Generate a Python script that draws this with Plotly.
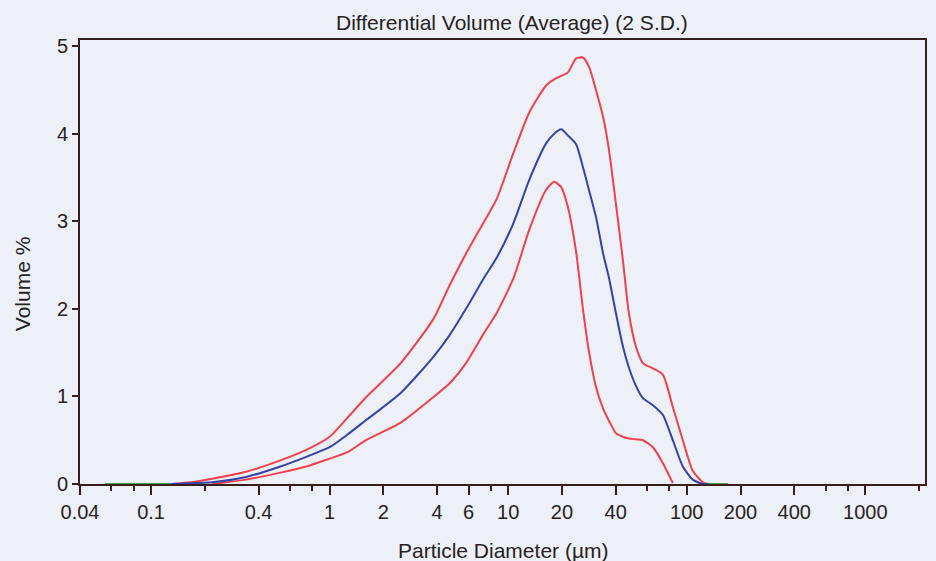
import plotly.graph_objects as go

# Particle diameter (µm) sample points
diameter = [0.13, 0.18, 0.22, 0.34, 0.53, 0.74, 1.0, 1.25, 1.6, 2.5, 3.8, 4.7, 5.8, 7.3,
            8.6, 10.7, 13.1, 16.3, 18.1, 19.8, 21.6, 24.0, 26.2, 28.4, 31.0, 34.0, 36.7,
            40.1, 43.9, 47.4, 51.9, 56.8, 64.6, 73.4, 83.5, 95.0, 108.0, 123.0, 131.0]

# Average differential volume (%)
mean_vol = [0.0, 0.01, 0.02, 0.08, 0.20, 0.31, 0.42, 0.56, 0.73, 1.04, 1.45, 1.70, 2.00, 2.35,
            2.58, 2.98, 3.47, 3.89, 4.00, 4.05, 3.98, 3.88, 3.62, 3.35, 3.05, 2.63, 2.35,
            1.95, 1.57, 1.33, 1.12, 0.98, 0.90, 0.79, 0.50, 0.20, 0.05, 0.0, 0.0]

# Mean + 2 S.D.
upper_vol = [0.0, 0.03, 0.06, 0.14, 0.27, 0.39, 0.54, 0.75, 0.99, 1.38, 1.88, 2.27, 2.63, 2.99,
             3.25, 3.78, 4.24, 4.55, 4.62, 4.66, 4.70, 4.86, 4.87, 4.76, 4.50, 4.19, 3.81,
             3.20, 2.55, 1.95, 1.57, 1.38, 1.32, 1.25, 0.88, 0.50, 0.15, 0.02, 0.0]

# Mean - 2 S.D.
lower_vol = [None, None, 0.0, 0.05, 0.13, 0.20, 0.29, 0.36, 0.50, 0.70, 0.99, 1.15, 1.38, 1.72,
             1.95, 2.35, 2.90, 3.36, 3.45, 3.39, 3.16, 2.65, 2.00, 1.50, 1.11, 0.86, 0.72,
             0.58, 0.54, 0.52, 0.51, 0.50, 0.42, 0.24, 0.01, None, None, None, None]

# Baseline (zero) segments drawn in green
base_diam = [0.055, 0.13, None, 123.0, 170.0]
base_vol = [0.0, 0.0, None, 0.0, 0.0]

major_ticks = [0.04, 0.1, 0.4, 1, 2, 4, 6, 10, 20, 40, 100, 200, 400, 1000]
major_labels = ["0.04", "0.1", "0.4", "1", "2", "4", "6", "10", "20", "40", "100", "200", "400", "1000"]
minor_ticks = [0.06, 0.08, 0.2, 0.6, 0.8, 8, 60, 80, 600, 800, 2000]

RED = "#f0404e"
BLUE = "#3543a8"
GREEN = "#4aa24a"
AXIS = "#3a1e1e"
BG = "#eef0f7"
FONT = "Liberation Sans, Arial, sans-serif"
TXT = "#262222"

fig = go.Figure()
fig.add_trace(go.Scatter(x=base_diam, y=base_vol, mode="lines",
                         line=dict(color=GREEN, width=2), connectgaps=False, showlegend=False))
fig.add_trace(go.Scatter(x=diameter, y=lower_vol, mode="lines",
                         line=dict(color=RED, width=2, shape="spline", smoothing=0.6),
                         connectgaps=False, showlegend=False))
fig.add_trace(go.Scatter(x=diameter, y=upper_vol, mode="lines",
                         line=dict(color=RED, width=2, shape="spline", smoothing=0.6),
                         showlegend=False))
fig.add_trace(go.Scatter(x=diameter, y=mean_vol, mode="lines",
                         line=dict(color=BLUE, width=2, shape="spline", smoothing=0.6),
                         showlegend=False))

fig.update_layout(
    width=936, height=561,
    margin=dict(l=80, r=9, t=40, b=77),
    paper_bgcolor=BG, plot_bgcolor=BG,
    font=dict(family=FONT, size=21, color=TXT),
    showlegend=False,
)

fig.update_xaxes(
    type="log", range=[-1.398, 3.334],
    tickmode="array", tickvals=major_ticks, ticktext=major_labels,
    ticks="outside", ticklen=9, tickwidth=2, tickcolor=AXIS,
    minor=dict(tickmode="array", tickvals=minor_ticks, ticks="outside",
               ticklen=5, tickwidth=2, tickcolor=AXIS, showgrid=False),
    showline=True, linecolor=AXIS, linewidth=2, mirror=True,
    showgrid=False, zeroline=False,
    tickfont=dict(size=20, family=FONT, color=TXT),
)
fig.update_yaxes(
    range=[0, 5.07], tickmode="array", tickvals=[0, 1, 2, 3, 4, 5],
    ticks="outside", ticklen=6, tickwidth=2, tickcolor=AXIS,
    showline=True, linecolor=AXIS, linewidth=2, mirror=True,
    showgrid=False, zeroline=False,
    tickfont=dict(size=20, family=FONT, color=TXT),
)

fig.add_annotation(text="Differential Volume (Average) (2 S.D.)", xref="paper", yref="paper",
                   x=0.511, y=1.0, yshift=18, showarrow=False, xanchor="center", yanchor="middle",
                   font=dict(size=21, family=FONT, color=TXT))
fig.add_annotation(text="Particle Diameter (µm)", xref="paper", yref="paper",
                   x=0.5, y=0.0, yshift=-66, showarrow=False, xanchor="center", yanchor="middle",
                   font=dict(size=21, family=FONT, color=TXT))
fig.add_annotation(text="Volume %", xref="paper", yref="paper", textangle=-90,
                   x=0.0, xshift=-58, y=0.45, showarrow=False, xanchor="center", yanchor="middle",
                   font=dict(size=21, family=FONT, color=TXT))

fig.write_html("out.html", config={"displayModeBar": False},
               post_script="document.body.style.margin='0';document.body.style.background='" + BG + "';")
